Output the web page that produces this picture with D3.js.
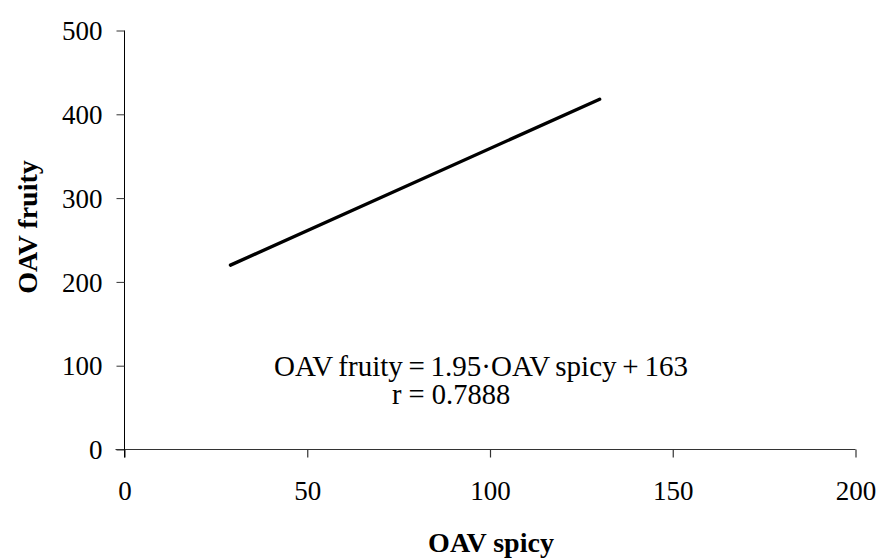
<!DOCTYPE html>
<html>
<head>
<meta charset="utf-8">
<script src="https://cdn.jsdelivr.net/npm/d3@7"></script>
<style>
  html, body { margin: 0; padding: 0; background: #fff; }
  svg { display: block; }
  text { font-family: "Liberation Serif", "Times New Roman", serif; fill: #000; }
</style>
</head>
<body>
<svg id="chart" width="880" height="559"></svg>
<script>
// Data
const xTicks = [0, 50, 100, 150, 200];
const yTicks = [0, 100, 200, 300, 400, 500];
const lineX = [29, 130];
const lineY = [220, 418];
const equationText = "OAV fruity = 1.95\u00B7OAV spicy + 163";
const rText = "r = 0.7888";
const xTitle = "OAV spicy";
const yTitle = "OAV fruity";

const svg = d3.select("#chart");
const x = d3.scaleLinear().domain([0, 200]).range([124.5, 855.5]);
const y = d3.scaleLinear().domain([0, 500]).range([449.5, 30.5]);

// X axis
const xAxis = svg.append("g")
  .attr("transform", `translate(0,${y(0)})`)
  .call(d3.axisBottom(x).tickValues(xTicks).tickSize(8).tickPadding(23).tickSizeOuter(0));
xAxis.select(".domain").attr("d", `M${x(0) - 9},0H${x(200)}`).attr("stroke", "#333").attr("stroke-width", 1.2);
xAxis.selectAll(".tick line").attr("stroke", "#333").attr("stroke-width", 1.2);
xAxis.selectAll(".tick text").attr("font-family", "Liberation Serif").attr("font-size", 27).attr("fill", "#000");

// Y axis
const yAxis = svg.append("g")
  .attr("transform", `translate(${x(0)},0)`)
  .call(d3.axisLeft(y).tickValues(yTicks).tickSize(8).tickPadding(14).tickSizeOuter(0));
yAxis.select(".domain").attr("d", `M0,${y(500)}V${y(0) + 8}`).attr("stroke", "#000");
yAxis.selectAll(".tick line").attr("stroke", "#333");
yAxis.selectAll(".tick text").attr("font-family", "Liberation Serif").attr("font-size", 27).attr("fill", "#000").attr("dy", "0.34em");

// Regression line
const pts = lineX.map((v, i) => [v, lineY[i]]);
svg.append("path")
  .datum(pts)
  .attr("d", d3.line().x(d => x(d[0])).y(d => y(d[1])))
  .attr("fill", "none")
  .attr("stroke", "#000")
  .attr("stroke-width", 3.4)
  .attr("stroke-linecap", "round");

// Annotations
svg.append("text")
  .attr("x", 274).attr("y", 376)
  .attr("font-size", 29)
  .attr("word-spacing", "-1.5px")
  .text(equationText);
svg.append("text")
  .attr("x", 392).attr("y", 404)
  .attr("font-size", 28.5)
  .text(rText);

// Axis titles
svg.append("text")
  .attr("x", 491).attr("y", 552)
  .attr("text-anchor", "middle")
  .attr("font-size", 28)
  .attr("font-weight", "bold")
  .text(xTitle);
svg.append("text")
  .attr("transform", "translate(37,227) rotate(-90)")
  .attr("text-anchor", "middle")
  .attr("font-size", 28)
  .attr("font-weight", "bold")
  .text(yTitle);
</script>
</body>
</html>
